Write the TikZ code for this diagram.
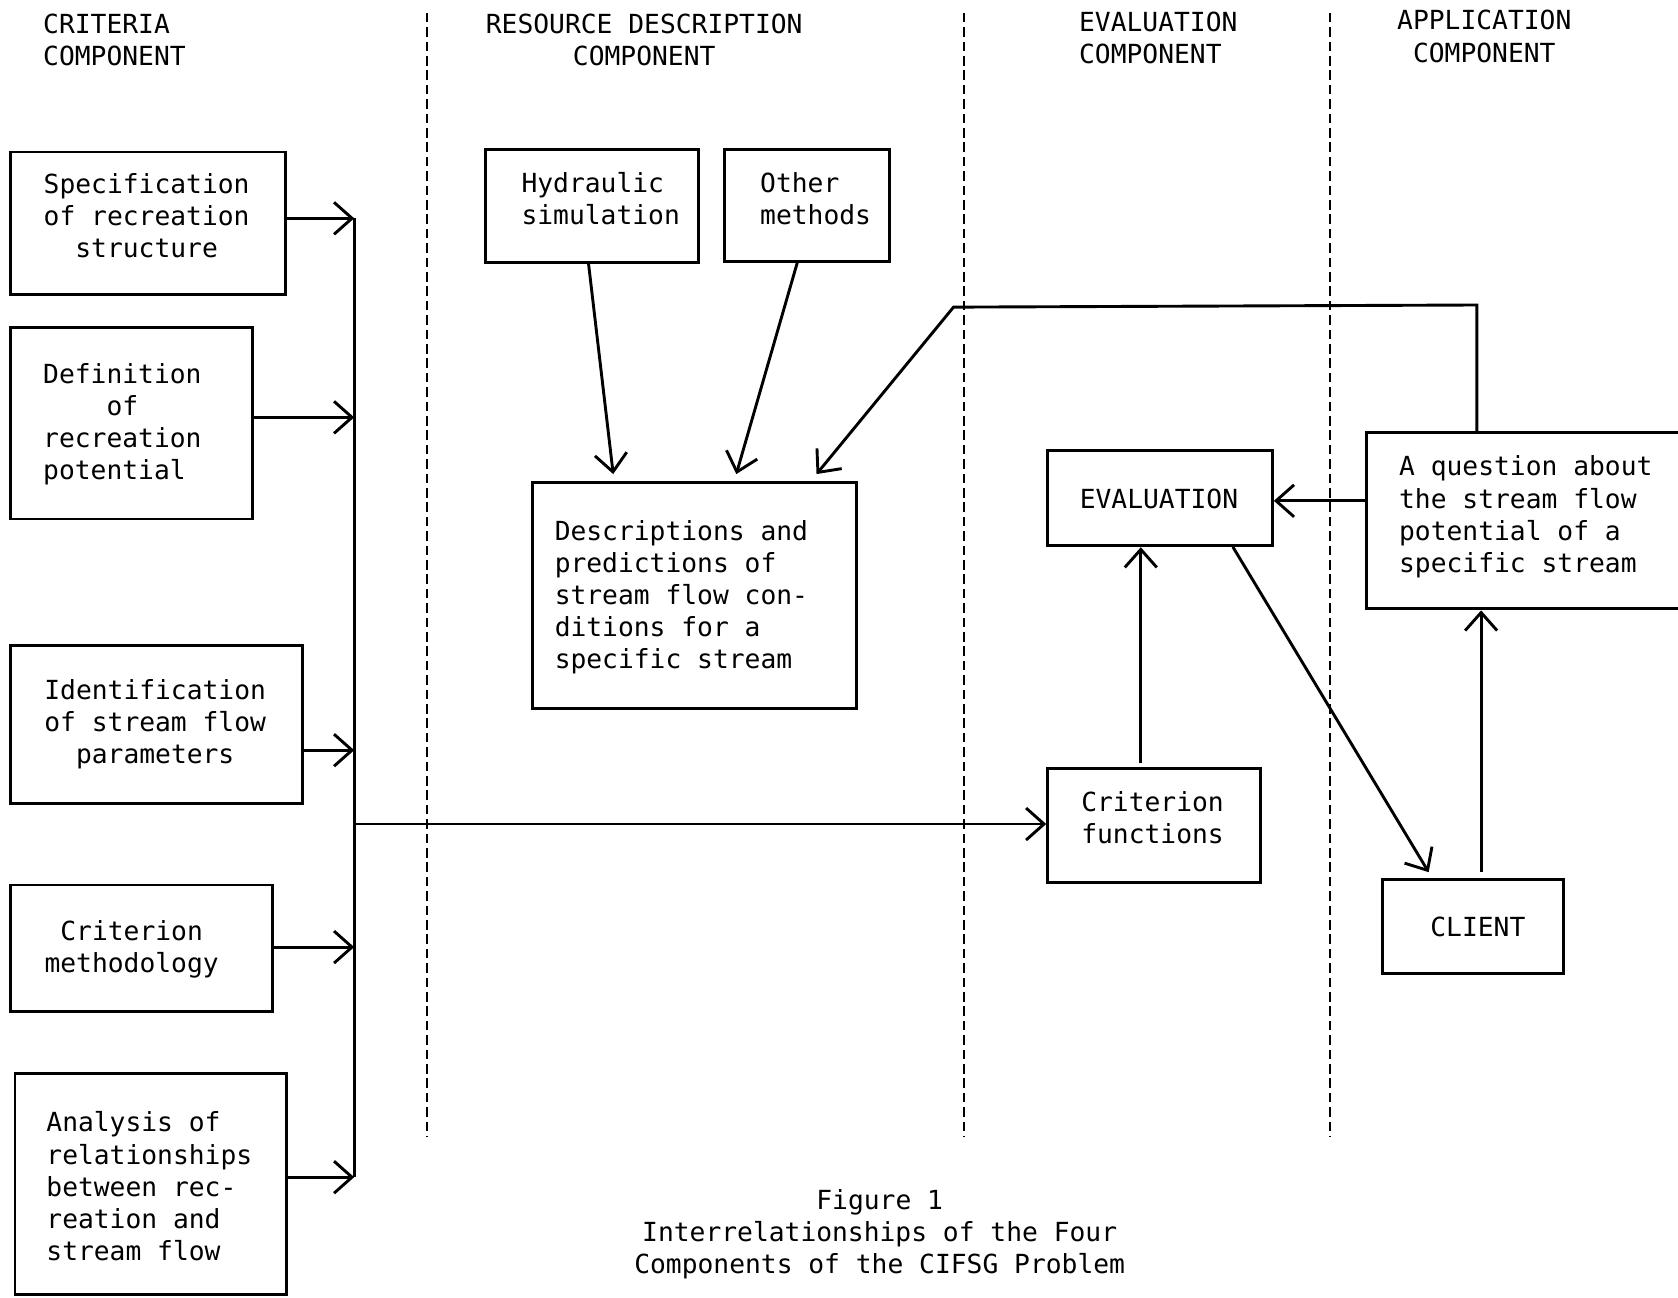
\documentclass[tikz,border=0pt]{standalone}
\usepackage{fontspec}
\newfontfamily\tw{DejaVu Sans Mono}
\usetikzlibrary{arrows.meta,fit}
\begin{document}
\begin{tikzpicture}[x=0.5351pt,y=-0.5351pt,
  box/.style={draw,line width=1.45pt,inner sep=0pt},
  txt/.style={font=\tw\fontsize{13.15}{16.05}\selectfont,inner sep=0pt},
  ln/.style={line width=1.45pt},
  arr/.style={ln,-{Straight Barb[length=9pt,width=16pt,line width=1.45pt]}},
  sep/.style={line width=1.2pt,dash pattern=on 4.8pt off 2.4pt}]
\useasboundingbox (0,0) rectangle (1568,1212);
\fill[white] (0,0) rectangle (1568,1212);
\clip (0,0) rectangle (1568,1212);

% separators
\draw[sep] (399,12) -- (399,1062);
\draw[sep] (901,12) -- (901,1062);
\draw[sep] (1243,12) -- (1243,1062);

% headers
\node[txt,anchor=west,align=left] (hcrit) at (40,37.5) {CRITERIA\\COMPONENT};
\node[txt,align=center] (hres) at (602,37) {RESOURCE DESCRIPTION\\COMPONENT};
\node[txt,anchor=west,align=left] (heval) at (1008,35.5) {EVALUATION\\COMPONENT};
\node[txt,align=center] (happ) at (1387,34) {APPLICATION\\COMPONENT};

% boxes
\node[box,fit={(10,142) (267,275)}] (spec) {};
\node[box,fit={(10,306) (236,485)}] (def) {};
\node[box,fit={(10,603) (283,751)}] (ident) {};
\node[box,fit={(10,827) (255,945)}] (meth) {};
\node[box,fit={(14,1003) (268,1210)}] (anal) {};
\node[box,fit={(454,140) (653,245)}] (hyd) {};
\node[box,fit={(677,140) (831,244)}] (oth) {};
\node[box,fit={(498,451) (800,662)}] (desc) {};
\node[box,fit={(979,421) (1189,510)}] (eval) {};
\node[box,fit={(979,718) (1178,825)}] (critf) {};
\node[box,fit={(1277,404) (1590,569)}] (quest) {};
\node[box,fit={(1292,822) (1461,910)}] (client) {};

% texts
\node[txt,align=center] (specT) at (137,201.5) {Specification\\of recreation\\structure};
\node[txt,anchor=west,align=left] (defT) at (40,396.5) {Definition\\\phantom{xxxx}of\\recreation\\potential};
\node[txt,align=center] (identT) at (145,677) {Identification\\of stream flow\\parameters};
\node[txt,align=center] (methT) at (123,887) {Criterion\\methodology};
\node[txt,anchor=west,align=left] (analT) at (43,1108.5) {Analysis of\\relationships\\between rec-\\reation and\\stream flow};
\node[txt,anchor=west,align=left] (hydT) at (487,185.5) {Hydraulic\\simulation};
\node[txt,anchor=west,align=left] (othT) at (710,185.5) {Other\\methods};
\node[txt,anchor=west,align=left] (descT) at (518,558) {Descriptions and\\predictions of\\stream flow con-\\ditions for a\\specific stream};
\node[txt] (evalT) at (1083,466) {EVALUATION};
\node[txt,anchor=west,align=left] (critfT) at (1010,764) {Criterion\\functions};
\node[txt,anchor=west,align=left] (questT) at (1307,483) {A question about\\the stream flow\\potential of a\\specific stream};
\node[txt] (clientT) at (1381,866) {CLIENT};
\node[txt,align=center] (caption) at (822,1153) {Figure 1\\Interrelationships of the Four\\Components of the CIFSG Problem};

% bus of criteria component
\coordinate (a1) at (331,204);
\coordinate (a2) at (331,390);
\coordinate (a3) at (331,701);
\coordinate (a4) at (331,885);
\coordinate (a5) at (331,1100);
\coordinate (bj) at (331,770);
\draw[ln] (a1) -- (a5);
\draw[arr] (spec.east |- a1) -- (a1);
\draw[arr] (def.east |- a2) -- (a2);
\draw[arr] (ident.east |- a3) -- (a3);
\draw[arr] (meth.east |- a4) -- (a4);
\draw[arr] (anal.east |- a5) -- (a5);
\draw[arr] (bj) -- (bj -| critf.west);

% resource description
\coordinate (t1) at (573,443);
\coordinate (t2) at (688,443);
\coordinate (t3) at (763,443);
\draw[arr] ([xshift=-1.9pt]hyd.south) -- (t1);
\draw[arr] ([xshift=-4.8pt]oth.south) -- (t2);

% feedback from question
\coordinate (f1) at (1380,285);
\coordinate (f2) at (891,287);
\draw[arr] (quest.north -| f1) -- (f1) -- (f2) -- (t3);

% evaluation component
\coordinate (cx) at (1066,713);
\draw[arr] (cx) -- (cx |- eval.south);
\draw[arr] (quest.west |- 0,468) -- (eval.east |- 0,468);
\coordinate (e1) at (1152,511);
\coordinate (t4) at (1335,815);
\draw[arr] (e1) -- (t4);
\coordinate (c1) at (1384,815);
\draw[arr] (c1) -- (c1 |- quest.south);
\end{tikzpicture}
\end{document}
